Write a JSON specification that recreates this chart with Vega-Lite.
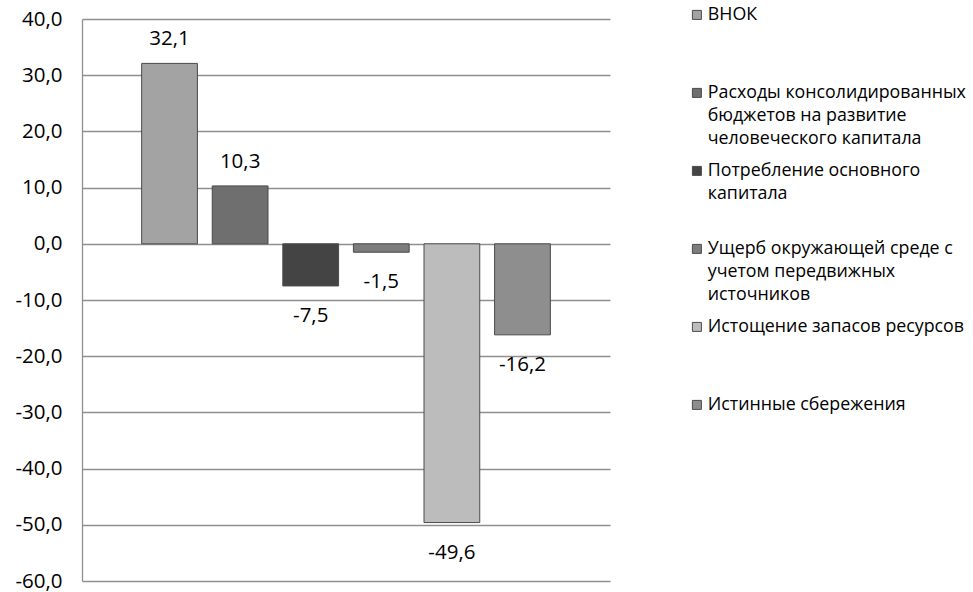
{
  "$schema": "https://vega.github.io/schema/vega-lite/v6.json",
  "width": 528,
  "height": 562,
  "autosize": "none",
  "padding": {"left": 82, "top": 19, "right": 363, "bottom": 11},
  "config": {
    "locale": {"number": {"decimal": ",", "thousands": " ", "grouping": [3], "currency": ["", ""], "minus": "-"}},
    "view": {"stroke": null},
    "font": "Open Sans",
    "style": {"guide-label": {"lineHeight": 23, "dy": -9}}
  },
  "data": {
    "values": [
      {"name": "ВНОК", "value": 32.1},
      {"name": "Расходы консолидированных|бюджетов на развитие|человеческого капитала", "value": 10.3},
      {"name": "Потребление основного|капитала", "value": -7.5},
      {"name": "Ущерб окружающей среде с|учетом передвижных|источников", "value": -1.5},
      {"name": "Истощение запасов ресурсов", "value": -49.6},
      {"name": "Истинные сбережения", "value": -16.2}
    ]
  },
  "encoding": {
    "x": {"field": "name", "type": "nominal", "sort": null, "axis": null, "scale": {"paddingInner": 0.21, "paddingOuter": 0.845}},
    "y": {
      "field": "value", "type": "quantitative",
      "scale": {"domain": [-60, 40], "nice": false, "zero": false},
      "axis": {
        "values": [-60, -50, -40, -30, -20, -10, 0, 10, 20, 30, 40],
        "format": ".1f", "title": null, "grid": true,
        "gridColor": "#8f8f8f", "gridWidth": 1.3,
        "domainColor": "#8f8f8f", "domainWidth": 1.3,
        "ticks": false, "labelPadding": 20, "labelOffset": 9, "labelFontSize": 20.5, "labelColor": "#000000"
      }
    }
  },
  "layer": [
    {
      "mark": {"type": "bar", "stroke": "#4a4a4a", "strokeWidth": 1},
      "encoding": {
        "fill": {
          "field": "name", "type": "nominal", "sort": null,
          "scale": {"range": ["#a3a3a3", "#6f6f6f", "#444444", "#7c7c7c", "#bcbcbc", "#8e8e8e"]},
          "legend": {
            "orient": "none", "legendX": 606, "legendY": -13, "title": null,
            "symbolType": "square", "symbolSize": 81, "symbolStrokeWidth": 1,
            "labelFontSize": 17.8, "labelLimit": 0, "labelColor": "#000000", "labelOffset": 2,
            "labelBaseline": "top", "rowPadding": 13, "padding": 0,
            "labelExpr": "slice(split(datum.label + '| | ', '|'), 0, 3)"
          }
        }
      }
    },
    {
      "transform": [{"filter": "datum.value >= 0"}],
      "mark": {"type": "text", "dy": -24, "fontSize": 20.5, "color": "#000000"},
      "encoding": {"text": {"field": "value", "type": "quantitative", "format": ".1f"}}
    },
    {
      "transform": [{"filter": "datum.value < 0"}],
      "mark": {"type": "text", "dy": 30, "fontSize": 20.5, "color": "#000000"},
      "encoding": {"text": {"field": "value", "type": "quantitative", "format": ".1f"}}
    }
  ]
}
